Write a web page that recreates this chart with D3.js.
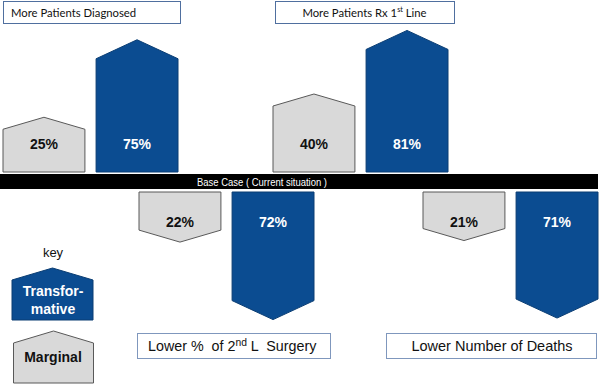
<!DOCTYPE html>
<meta charset="utf-8">
<style>
  body { margin: 0; background: #fff; }
  svg text { font-family: Arial, "Liberation Sans", sans-serif; }
  .pct { font-weight: bold; font-size: 14px; text-anchor: middle; }
  .boxText { font-size: 13px; fill: #111; white-space: pre; }
</style>
<body>
<svg id="chart" width="599" height="385"></svg>
<script src="https://d3js.org/d3.v7.min.js"></script>
<script>
// data
var groups = ["More Patients Diagnosed", "Lower % of 2nd L Surgery", "More Patients Rx 1st Line", "Lower Number of Deaths"];
var directions = ["up", "down", "up", "down"];
var marginalValues = [25, 22, 40, 21];
var transformValues = [75, 72, 81, 71];
var kinds = ["Marginal", "Transformative"];

var svg = d3.select("#chart");
var baseTop = 174, baseBottom = 189;
var colors = { Marginal: "#d9d9d9", Transformative: "#0b4c91" };
var strokes = { Marginal: "#595959", Transformative: "#0a3d73" };
var pointH = { Marginal: 12, Transformative: 19 };

var gx = d3.scaleOrdinal().domain(groups).range([3, 139, 273, 423]);
var kx = d3.scaleBand().domain(kinds).range([0, 175]).paddingInner(0.12);
var h = d3.scaleLinear().domain([0, 100]).range([16, 171]);

var marks = [];
groups.forEach(function (g, i) {
  marks.push({ group: g, dir: directions[i], kind: "Marginal", v: marginalValues[i] });
  marks.push({ group: g, dir: directions[i], kind: "Transformative", v: transformValues[i] });
});

function shape(x0, w, base, len, ph, dir) {
  var s = dir == "up" ? -1 : 1;
  var tip = base + s * len, sh = tip - s * ph;
  return "M" + x0 + "," + base + "L" + x0 + "," + sh + "L" + (x0 + w / 2) + "," + tip +
    "L" + (x0 + w) + "," + sh + "L" + (x0 + w) + "," + base + "Z";
}

marks.forEach(function (d) {
  var x0 = gx(d.group) + kx(d.kind), w = kx.bandwidth();
  var base = d.dir == "up" ? baseTop - 2 : baseBottom + 3;
  svg.append("path")
    .attr("d", shape(x0, w, base, h(d.v), pointH[d.kind], d.dir))
    .attr("fill", colors[d.kind]).attr("stroke", strokes[d.kind]).attr("stroke-width", 1);
  svg.append("text").attr("class", "pct")
    .attr("x", x0 + w / 2)
    .attr("y", d.dir == "up" ? base - 23 : base + 35)
    .attr("fill", d.kind == "Marginal" ? "#111" : "#fff")
    .text(d.v + "%");
});

// base case bar
svg.append("rect").attr("x", 0).attr("y", baseTop).attr("width", 598).attr("height", baseBottom - baseTop).attr("fill", "#000");
svg.append("text").attr("x", 262).attr("y", baseBottom - 3.5).attr("text-anchor", "middle")
  .attr("fill", "#fff").style("font-size", "11.5px")
  .attr("textLength", 130).attr("lengthAdjust", "spacingAndGlyphs")
  .text("Base Case ( Current situation )");

// title boxes
var boxes = [
  { x: 3, y: 1, w: 177, h: 22, parts: ["More Patients Diagnosed"], anchor: "start", tx: 8, font: "Lato", size: 11.3, stroke: "#4f6f9f" },
  { x: 137, y: 333, w: 193, h: 25, parts: ["Lower %  of 2", "nd", " L  Surgery"], anchor: "start", tx: 11, size: 14.3, stroke: "#7f97bd" },
  { x: 275, y: 1, w: 179, h: 22, parts: ["More Patients Rx 1", "st", " Line"], anchor: "middle", tx: 89.5, font: "Lato", size: 11.3, stroke: "#4f6f9f" },
  { x: 386, y: 333, w: 210, h: 25, parts: ["Lower Number of Deaths"], anchor: "middle", tx: 106, size: 14.5, stroke: "#7f97bd" }
];
boxes.forEach(function (b) {
  svg.append("rect").attr("x", b.x + 0.5).attr("y", b.y + 0.5).attr("width", b.w).attr("height", b.h)
    .attr("fill", "#fff").attr("stroke", b.stroke);
  var t = svg.append("text").attr("class", "boxText")
    .attr("x", b.x + b.tx).attr("y", b.y + b.h / 2 + 5)
    .attr("text-anchor", b.anchor).style("font-size", b.size + "px");
  if (b.font) t.style("font-family", b.font + ", sans-serif");
  b.parts.forEach(function (p, i) {
    var ts = t.append("tspan").text(p);
    if (i == 1) ts.attr("dy", -5).style("font-size", (b.size - 4) + "px");
    if (i == 2) ts.attr("dy", 5);
  });
});

// key
svg.append("text").attr("x", 53).attr("y", 257).attr("text-anchor", "middle").style("font-size", "13px").attr("fill", "#111").text("key");
svg.append("path").attr("d", shape(12, 81, 320, 52, 12, "up")).attr("fill", colors.Transformative).attr("stroke", strokes.Transformative);
svg.append("text").attr("class", "pct").attr("x", 53).attr("y", 296).attr("fill", "#fff").text("Transfor-");
svg.append("text").attr("class", "pct").attr("x", 53).attr("y", 314).attr("fill", "#fff").text("mative");
svg.append("path").attr("d", shape(13.5, 80, 383, 52, 12, "up")).attr("fill", colors.Marginal).attr("stroke", strokes.Marginal);
svg.append("text").attr("class", "pct").attr("x", 53).attr("y", 362).attr("fill", "#111").text("Marginal");
</script>
</body>
